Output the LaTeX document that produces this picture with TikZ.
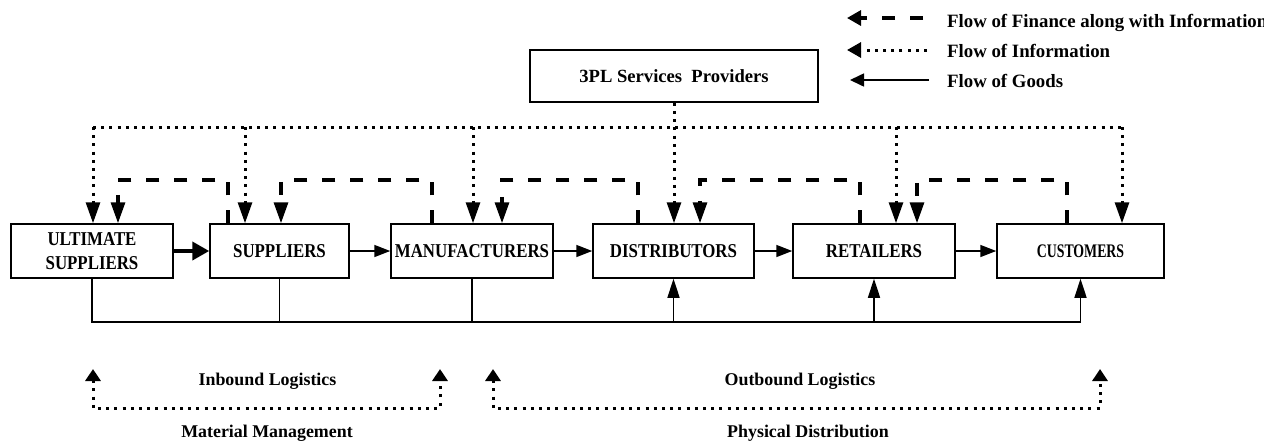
\documentclass[tikz,border=0pt]{standalone}
\usepackage{fontspec}
\setmainfont{Liberation Serif}
\newfontfamily\boxfont{Liberation Serif}[FakeStretch=0.86]
\newfontfamily\custfont{Liberation Serif}[FakeStretch=0.72]
\usetikzlibrary{arrows.meta}

\tikzset{
  box/.style={draw, line width=1.5pt, minimum height=54pt, inner sep=0pt, align=center,
    font=\boxfont\bfseries\fontsize{19.6}{23.4}\selectfont},
  goodsline/.style={line width=1.6pt},
  goods/.style={line width=1.6pt, -{Triangle[length=16pt,width=12pt]}},
  goodsup/.style={line width=1.6pt, -{Triangle[length=19pt,width=12pt]}},
  info/.style={line width=3pt, dash pattern=on 3pt off 5.2pt},
  infoarrow/.style={info, -{Triangle[length=21pt,width=14pt]}},
  fin/.style={line width=3.2pt, dash pattern=on 13pt off 15pt},
  finarrow/.style={fin, -{Triangle[length=21pt,width=14pt]}},
  legendtext/.style={inner sep=0pt, anchor=base west, font=\bfseries\fontsize{18.8}{22}\selectfont},
  spantext/.style={inner sep=0pt, anchor=base, font=\bfseries\fontsize{17.9}{21}\selectfont},
  bracket/.style={info, {Triangle[length=12pt,width=15pt]}-{Triangle[length=12pt,width=15pt]}},
  legendhead/.style={-{Triangle[length=14pt,width=15pt]}}
}

\begin{document}
\begin{tikzpicture}[x=1pt,y=-1pt]
\useasboundingbox (0,0) rectangle (1264,445);

% chain members
\node[box, minimum width=162pt] (us)  at (92,251)    {ULTIMATE\\SUPPLIERS};
\node[box, minimum width=139pt] (sup) at (279.5,251) {SUPPLIERS};
\node[box, minimum width=162pt] (man) at (472,251)   {MANUFACTURERS};
\node[box, minimum width=161pt] (dis) at (673.5,251) {DISTRIBUTORS};
\node[box, minimum width=162pt] (ret) at (874,251)   {RETAILERS};
\node[box, minimum width=167pt, font=\custfont\bfseries\fontsize{19.2}{23}\selectfont]
     (cus) at (1080.5,251) {CUSTOMERS};
\node[box, minimum width=288pt, minimum height=52pt,
      font=\bfseries\fontsize{18.6}{22}\selectfont] (tpl) at (674,76) {3PL Services\ \ Providers};

% flow of goods along the chain
\draw[goods, line width=4pt, -{Triangle[length=17pt,width=18pt]}] (us) -- (sup);
\draw[goods] (sup) -- (man);
\draw[goods] (man) -- (dis);
\draw[goods] (dis) -- (ret);
\draw[goods] (ret) -- (cus);

% goods bus below the chain
\coordinate (bus) at (0,322);
\draw[goodsline] (us.south) -- (us.south |- bus) -- (cus.south |- bus);
\draw[goodsline] (sup.south) -- (sup.south |- bus);
\draw[goodsline] (man.south) -- (man.south |- bus);
\draw[goodsup] (dis.south |- bus) -- (dis.south);
\draw[goodsup] (ret.south |- bus) -- (ret.south);
\draw[goodsup] (cus.south |- bus) -- (cus.south);

% flow of information from the top line
\coordinate (i1) at (93,127);
\coordinate (i2) at (245,127);
\coordinate (i3) at (473,127);
\coordinate (i5) at (896,127);
\coordinate (i6) at (1122,127);
\draw[info] (i1) -- (i6);
\draw[infoarrow] (i1) -- (i1 |- us.north);
\draw[infoarrow] (i2) -- (i2 |- sup.north);
\draw[infoarrow] (i3) -- (i3 |- man.north);
\draw[infoarrow] (i5) -- (i5 |- ret.north);
\draw[infoarrow] (i6) -- (i6 |- cus.north);
\draw[infoarrow] (tpl.south) -- (tpl.south |- dis.north);

% flow of finance upstream
\coordinate (f1a) at (228,180);  \coordinate (f1b) at (118,180);
\coordinate (f2a) at (432,180);  \coordinate (f2b) at (281,180);
\coordinate (f3a) at (638,180);  \coordinate (f3b) at (502,180);
\coordinate (f4a) at (860,180);  \coordinate (f4b) at (700,180);
\coordinate (f5a) at (1067,180); \coordinate (f5b) at (917,180);
\draw[finarrow] (f1a |- sup.north) -- (f1a) -- (f1b) -- (f1b |- us.north);
\draw[finarrow] (f2a |- man.north) -- (f2a) -- (f2b) -- (f2b |- sup.north);
\draw[finarrow] (f3a |- dis.north) -- (f3a) -- (f3b) -- (f3b |- man.north);
\draw[finarrow] (f4a |- ret.north) -- (f4a) -- (f4b) -- (f4b |- dis.north);
\draw[finarrow] (f5a |- cus.north) -- (f5a) -- (f5b) -- (f5b |- ret.north);

% legend
\coordinate (lf0) at (923,18); \coordinate (lf1) at (847,18);
\coordinate (li0) at (927,50); \coordinate (li1) at (847,50);
\coordinate (lg0) at (929,80); \coordinate (lg1) at (850,80);
\draw[fin, legendhead] (lf0) -- (lf1);
\draw[info, legendhead] (li0) -- (li1);
\draw[goodsline, -{Triangle[length=14pt,width=13pt]}] (lg0) -- (lg1);
\node[legendtext] (lt1) at (947,27)   {Flow of Finance along with Information};
\node[legendtext] (lt2) at (947,57.5) {Flow of Information};
\node[legendtext] (lt3) at (947,87.5) {Flow of Goods};

% logistics spans
\coordinate (a1) at (93,369);  \coordinate (a2) at (93,408);
\coordinate (a3) at (440,408); \coordinate (a4) at (440,369);
\draw[bracket] (a1) -- (a2) -- (a3) -- (a4);
\coordinate (b1) at (493,369);  \coordinate (b2) at (493,408);
\coordinate (b3) at (1100,408); \coordinate (b4) at (1100,369);
\draw[bracket] (b1) -- (b2) -- (b3) -- (b4);

\node[spantext] (inb) at (267.5,385) {Inbound Logistics};
\node[spantext] (mat) at (267,437)   {Material Management};
\node[spantext] (outb) at (800,385)  {Outbound Logistics};
\node[spantext] (phy) at (808,437)   {Physical Distribution};
\end{tikzpicture}
\end{document}
